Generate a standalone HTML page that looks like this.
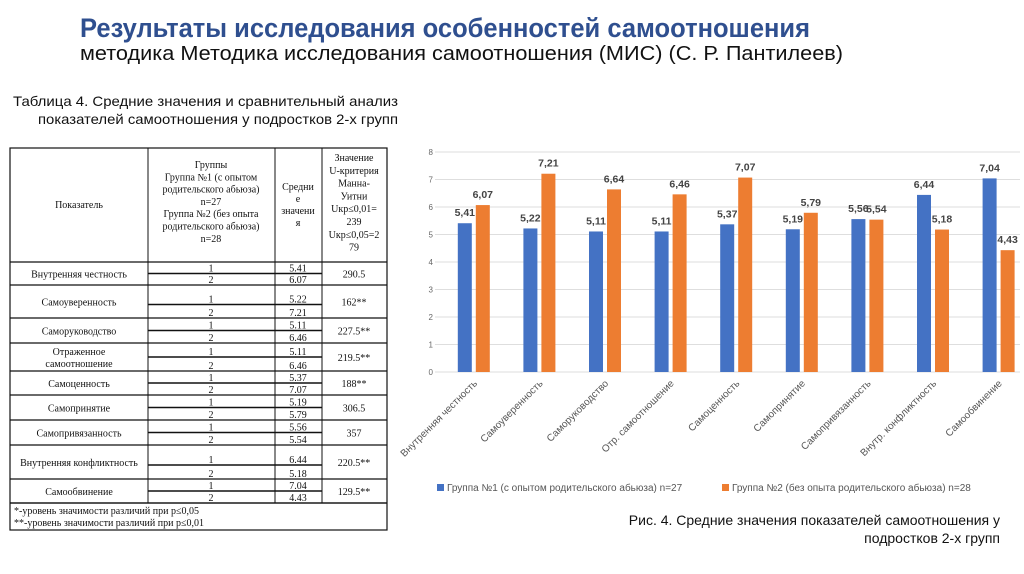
<!DOCTYPE html>
<html><head><meta charset="utf-8"><style>
body{margin:0;background:#fff;width:1024px;height:574px;overflow:hidden}
svg{display:block}
.t{font-family:"Liberation Serif","DejaVu Serif",serif;font-size:10px;fill:#111}
.s{font-family:"Liberation Sans Narrow","Liberation Sans",sans-serif}
.ax{font-family:"Liberation Sans",sans-serif;font-size:8px;fill:#666}
.cat{font-family:"Liberation Sans",sans-serif;font-size:10px;fill:#555}
.val{font-family:"Liberation Sans",sans-serif;font-size:10.5px;font-weight:bold;fill:#444}
</style></head><body>
<svg id="page" width="1024" height="574" xmlns="http://www.w3.org/2000/svg">
<text class="s" x="80" y="37" font-size="27" font-weight="bold" fill="#2f4f8f" textLength="730" lengthAdjust="spacingAndGlyphs">Результаты исследования особенностей самоотношения</text>
<text class="s" x="80" y="60" font-size="20" fill="#111" textLength="763" lengthAdjust="spacingAndGlyphs">методика Методика исследования самоотношения (МИС) (С. Р. Пантилеев)</text>
<text class="s" x="13" y="106" font-size="14" fill="#111" textLength="385" lengthAdjust="spacingAndGlyphs">Таблица 4. Средние значения и сравнительный анализ</text>
<text class="s" x="38" y="124" font-size="14" fill="#111" textLength="360" lengthAdjust="spacingAndGlyphs">показателей самоотношения у подростков 2-х групп</text>
<g id="table"></g>
<g id="chart"></g>
<text class="s" x="1000" y="525" font-size="14" fill="#111" text-anchor="end">Рис. 4. Средние значения показателей самоотношения у</text>
<text class="s" x="1000" y="543" font-size="14" fill="#111" text-anchor="end">подростков 2-х групп</text>
</svg>
<script>
const categories=["Внутренняя честность","Самоуверенность","Саморуководство","Отр. самоотношение","Самоценность","Самопринятие","Самопривязанность","Внутр. конфликтность","Самообвинение"];
const tableNames=[["Внутренняя честность"],["Самоуверенность"],["Саморуководство"],["Отраженное","самоотношение"],["Самоценность"],["Самопринятие"],["Самопривязанность"],["Внутренняя конфликтность"],["Самообвинение"]];
const group1=[5.41,5.22,5.11,5.11,5.37,5.19,5.56,6.44,7.04];
const group2=[6.07,7.21,6.64,6.46,7.07,5.79,5.54,5.18,4.43];
const tableG2=[6.07,7.21,6.46,6.46,7.07,5.79,5.54,5.18,4.43];
const uValues=["290.5","162**","227.5**","219.5**","188**","306.5","357","220.5**","129.5**"];
const yTicks=[0,1,2,3,4,5,6,7,8];
const NS="http://www.w3.org/2000/svg";
function mk(p,tag,a,txt){const e=document.createElementNS(NS,tag);for(const k in a)e.setAttribute(k,a[k]);if(txt!==undefined)e.textContent=txt;p.appendChild(e);return e;}
const fmt=v=>v.toFixed(2).replace('.',',');

// chart
const ch=document.getElementById('chart');
const x0=441,step=65.6,yBase=372,pxU=27.5,bw=14;
const xc=i=>x0+step*(i+0.5);
const y=v=>yBase-v*pxU;
yTicks.forEach(t=>{
 const l=mk(ch,'line',{x1:x0-6,x2:1020,y1:y(t),y2:y(t),stroke:'#dedede','stroke-width':1});
 
 
 const tx=mk(ch,'text',{x:x0-8,y:y(t)+3,'text-anchor':'end',class:'ax'},String(t));
 
 
});
categories.forEach((c,i)=>{
 const cx=xc(i);
 const b1=mk(ch,'rect',{x:cx-bw-2,y:y(group1[i]),width:bw,height:group1[i]*pxU,fill:'#4472c4'});
 
 
 const b2=mk(ch,'rect',{x:cx+2,y:y(group2[i]),width:bw,height:group2[i]*pxU,fill:'#ed7d31'});
 
 
 const v1=mk(ch,'text',{x:cx-bw/2-2,y:y(group1[i])-7,'text-anchor':'middle',class:'val'},fmt(group1[i]));
 
 
 const v2=mk(ch,'text',{x:cx+bw/2+2,y:y(group2[i])-7,'text-anchor':'middle',class:'val'},fmt(group2[i]));
 
 
 const cl=mk(ch,'text',{x:cx+4,y:yBase+12,'text-anchor':'end',class:'cat',transform:`rotate(-45 ${cx+4} ${yBase+12})`},c);
 
 
});
const lg=mk(ch,'g',{});


mk(lg,'rect',{x:437,y:484,width:7,height:7,fill:'#4472c4'});
const l1=mk(lg,'text',{x:447,y:491,class:'cat'},'Группа №1 (с опытом родительского абьюза) n=27');


mk(lg,'rect',{x:722,y:484,width:7,height:7,fill:'#ed7d31'});
const l2=mk(lg,'text',{x:732,y:491,class:'cat'},'Группа №2 (без опыта родительского абьюза) n=28');



// table
const tb=document.getElementById('table');
const L=10,C1=148,C2=275,C3=322,R=387,T=148,H=262;
const rows=[[262,285],[285,318],[318,343],[343,371],[371,395],[395,420],[420,445],[445,479],[479,503]];
const ln=(a,b,c,d,w)=>mk(tb,'line',{x1:a,y1:b,x2:c,y2:d,stroke:'#111','stroke-width':w||1});
mk(tb,'rect',{x:L,y:T,width:R-L,height:530-T,fill:'none',stroke:'#111','stroke-width':1.2});
ln(C1,T,C1,503);ln(C2,T,C2,503);ln(C3,T,C3,503);ln(L,H,R,H,1.2);ln(L,503,R,503,1.2);
mk(tb,'text',{x:79,y:208,'text-anchor':'middle',class:'t'},'Показатель');
["Группы","Группа №1 (с опытом","родительского абьюза)","n=27","Группа №2 (без опыта","родительского абьюза)","n=28"].forEach((s,k)=>mk(tb,'text',{x:211,y:168+k*12.3,'text-anchor':'middle',class:'t'},s));
["Средни","е","значени","я"].forEach((s,k)=>mk(tb,'text',{x:298,y:190+k*12,'text-anchor':'middle',class:'t'},s));
["Значение","U-критерия","Манна-","Уитни","Uкр≤0,01=","239","Uкр≤0,05=2","79"].forEach((s,k)=>mk(tb,'text',{x:354,y:161+k*12.8,'text-anchor':'middle',class:'t'},s));
rows.forEach((r,i)=>{
 const [a,b]=r,m=(a+b)/2+((i==1||i==7)?3:0);
 ln(L,b,R,b,1.2);ln(C1,m,C3,m,1.5);
 const nm=tableNames[i];
 nm.forEach((s,k)=>mk(tb,'text',{x:79,y:(a+b)/2+4+(k-(nm.length-1)/2)*12,'text-anchor':'middle',class:'t'},s));
 mk(tb,'text',{x:211,y:m-2,'text-anchor':'middle',class:'t'},'1');
 mk(tb,'text',{x:211,y:b-2,'text-anchor':'middle',class:'t'},'2');
 mk(tb,'text',{x:298,y:m-2,'text-anchor':'middle',class:'t'},group1[i].toFixed(2));
 mk(tb,'text',{x:298,y:b-2,'text-anchor':'middle',class:'t'},tableG2[i].toFixed(2));
 mk(tb,'text',{x:354,y:(a+b)/2+4,'text-anchor':'middle',class:'t'},uValues[i]);
});
mk(tb,'text',{x:14,y:514,class:'t'},'*-уровень значимости различий при р≤0,05');
mk(tb,'text',{x:14,y:526,class:'t'},'**-уровень значимости различий при р≤0,01');
</script>
</body></html>
